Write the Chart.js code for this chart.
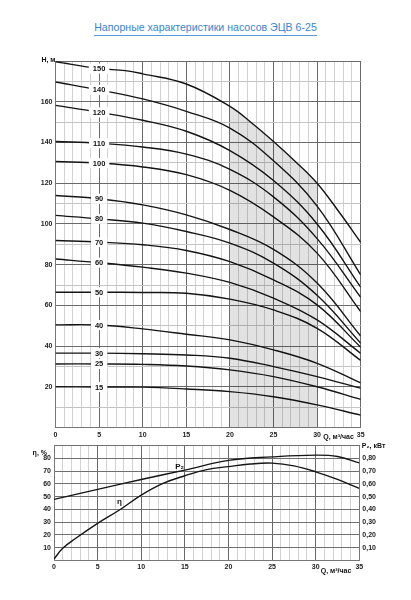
<!DOCTYPE html>
<html lang="ru">
<head>
  <meta charset="UTF-8">
  <title>Напорные характеристики насосов ЭЦВ 6-25</title>
  <script src="https://cdn.jsdelivr.net/npm/chart.js"></script>
  <style>
    body { margin: 0; background: #fff; }
    #wrap { position: relative; width: 411px; height: 600px; }
    #wrap canvas { position: absolute; left: 0; top: 0; }
    #title { position: absolute; top: 21px; left: 0; width: 411px; text-align: center;
             font: 10.6px "Liberation Sans", Arial, sans-serif; color: #3a85cf; line-height: 13px; }
    #title span { border-bottom: 1px solid #5b9bd9; padding-bottom: 2px; }
  </style>
</head>
<body>
  <div id="wrap">
    <div id="title"><span>Напорные характеристики насосов ЭЦВ 6-25</span></div>
    <canvas id="headChart" width="411" height="600"></canvas>
    <canvas id="effChart" width="411" height="600"></canvas>
  </div>

  <script>
    // Q-H curves, number of stages -> head (m) at flow Q (m3/h)
    const flowQ = [0, 5, 10, 15, 20, 25, 30, 35];
    const q150 = [0, 5, 8, 10, 15, 20, 22.5, 25, 27.5, 30, 32.5, 35];
    const h150 = [179.6, 176.3, 175.3, 173.7, 168.7, 157.7, 149.6, 140.5, 130.7, 120.0, 106.0, 91.0];
    const h140 = [169.7, 165.8, 161.4, 155.3, 147.1, 131.0, 108.8, 75.0];
    const h120 = [158.2, 154.8, 150.9, 145.5, 136.0, 121.3, 100.0, 69.0];
    const h110 = [140.5, 139.6, 137.8, 134.3, 126.8, 113.3, 92.8, 64.0];
    const h100 = [130.7, 129.9, 128.0, 124.2, 116.5, 103.5, 85.7, 57.0];
    const h90 = [114.0, 112.4, 109.4, 104.5, 97.3, 87.5, 71.0, 45.0];
    const h80 = [104.2, 102.5, 100.4, 96.3, 90.6, 80.8, 65.0, 41.5];
    const h70 = [91.9, 91.1, 89.8, 87.0, 81.5, 72.6, 60.3, 39.5];
    const h60 = [82.8, 81.0, 78.8, 75.9, 71.3, 63.6, 52.9, 36.5];
    const h50 = [66.5, 66.5, 66.4, 66.0, 63.1, 57.8, 48.8, 33.0];
    const h40 = [50.5, 50.4, 48.5, 45.9, 43.1, 38.2, 31.6, 22.0];
    const h30 = [36.6, 36.6, 36.3, 35.7, 34.1, 30.0, 25.1, 19.4];
    const h25 = [31.3, 31.3, 31.1, 30.3, 28.4, 25.1, 20.1, 13.9];
    const h15 = [20.1, 20.0, 19.9, 19.0, 17.7, 15.2, 11.2, 6.2];

    const stages = ['140', '120', '110', '100', '90', '80', '70', '60', '50', '40', '30', '25', '15'];
    const heads = [h140, h120, h110, h100, h90, h80, h70, h60, h50, h40, h30, h25, h15];

    // efficiency (%) and power P2 (kW)
    const effQ = [0, 1, 2.5, 5, 7.5, 10, 12.5, 15, 17.5, 20, 22.5, 25, 27.5, 30, 32.5, 35];
    const effPct = [1, 9.4, 17.3, 29.0, 39.5, 51.2, 60.4, 66.4, 71.2, 73.6, 75.6, 76.3, 74.2, 69.5, 63.5, 56.5];
    const powQ = [0, 5, 10, 15, 20, 25, 30, 32.5, 35];
    const powKw = [0.478, 0.557, 0.635, 0.708, 0.785, 0.812, 0.826, 0.815, 0.765];

    const FONT = '"Liberation Sans", Arial, sans-serif';
    Chart.defaults.font.family = FONT;
    Chart.defaults.color = '#222';

    const pts = (q, h) => q.map((x, i) => ({ x: x, y: h[i] }));
    const lineStyle = { borderColor: '#151515', borderWidth: 1.4, pointRadius: 0,
                        tension: 0.4, fill: false };
    const tickFont = { size: 7, weight: 'bold' };

    const headSets = [{
      label: '150', data: pts(q150, h150), ...lineStyle,
      fill: 'origin', backgroundColor: 'transparent',
      segment: {
        backgroundColor: c => (c.p0.parsed.x >= 20 && c.p1.parsed.x <= 30) ? 'rgba(0,0,0,0.115)' : 'transparent'
      }
    }];
    stages.forEach((s, i) => headSets.push({ label: s, data: pts(flowQ, heads[i]), ...lineStyle }));

    const headLabels = {
      id: 'headLabels',
      afterDatasetsDraw(chart) {
        const { ctx, scales: { x, y }, chartArea } = chart;
        ctx.save();
        ctx.font = 'bold 7.5px ' + FONT;
        ctx.textAlign = 'center';
        ctx.textBaseline = 'middle';
        chart.data.datasets.forEach(ds => {
          const p = ds.data.find(d => d.x === 5);
          const px = x.getPixelForValue(5), py = y.getPixelForValue(p.y);
          const w = ctx.measureText(ds.label).width + 8;
          ctx.fillStyle = '#fff';
          ctx.fillRect(px - w / 2, py - 5, w, 10);
          ctx.fillStyle = '#111';
          ctx.fillText(ds.label, px, py + 0.5);
        });
        ctx.font = 'bold 7px ' + FONT;
        ctx.textAlign = 'right';
        ctx.fillText('H, м', chartArea.left, chartArea.top - 1);
        ctx.textAlign = 'center';
        ctx.fillText('Q, м³/час', 338.5, chartArea.bottom + 9.5);
        ctx.restore();
      }
    };

    new Chart(document.getElementById('headChart'), {
      type: 'line',
      data: { datasets: headSets },
      options: {
        responsive: false, animation: false,
        layout: { padding: { left: 0, right: 50.3, top: 61, bottom: 158.3 } },
        plugins: { legend: { display: false }, tooltip: { enabled: false } },
        scales: {
          x: {
            type: 'linear', min: 0, max: 35,
            afterFit: s => { s.height = 14; },
            border: { color: '#777' },
            grid: { drawTicks: false, color: c => c.tick.value % 5 === 0 ? '#6a6a6a' : '#d2d2d2' },
            ticks: { stepSize: 1, autoSkip: false, maxRotation: 0, padding: 3, font: tickFont,
                     callback: v => v % 5 === 0 ? v : '' }
          },
          y: {
            min: 0, max: 180,
            afterFit: s => { s.width = 55.5; },
            border: { color: '#777' },
            grid: { drawTicks: false, color: c => c.tick.value % 20 === 0 ? '#6a6a6a' : '#c4c4c4' },
            ticks: { stepSize: 10, autoSkip: false, padding: 3, font: tickFont,
                     callback: v => (v % 20 === 0 && v > 0 && v < 180) ? v : '' }
          }
        }
      },
      plugins: [headLabels]
    });

    const effLabels = {
      id: 'effLabels',
      afterDatasetsDraw(chart) {
        const { ctx, scales: { x, y }, chartArea } = chart;
        ctx.save();
        ctx.fillStyle = '#111';
        ctx.textBaseline = 'middle';
        ctx.font = 'bold 7px ' + FONT;
        ctx.textAlign = 'right';
        ctx.fillText('η, %', chartArea.left - 7, chartArea.top + 7);
        ctx.textAlign = 'left';
        ctx.fillText('P₂, кВт', chartArea.right + 2.5, chartArea.top + 0.5);
        ctx.textAlign = 'center';
        ctx.fillText('Q, м³/час', 336, chartArea.bottom + 10.5);
        ctx.font = 'bold 8px ' + FONT;
        ctx.fillText('η', x.getPixelForValue(7.5), y.getPixelForValue(46));
        ctx.fillText('P₂', x.getPixelForValue(14.4), y.getPixelForValue(73.5));
        ctx.restore();
      }
    };

    new Chart(document.getElementById('effChart'), {
      type: 'line',
      data: {
        datasets: [
          { label: 'η', data: pts(effQ, effPct), yAxisID: 'y', ...lineStyle },
          { label: 'P2', data: pts(powQ, powKw), yAxisID: 'y2', ...lineStyle }
        ]
      },
      options: {
        responsive: false, animation: false,
        layout: { padding: { left: 0, right: 0, top: 445.7, bottom: 25.7 } },
        plugins: { legend: { display: false }, tooltip: { enabled: false } },
        scales: {
          x: {
            type: 'linear', min: 0, max: 35,
            afterFit: s => { s.height = 14; },
            border: { color: '#777' },
            grid: { drawTicks: false, color: c => c.tick.value % 5 === 0 ? '#6a6a6a' : '#d2d2d2' },
            ticks: { stepSize: 1, autoSkip: false, maxRotation: 0, padding: 3, font: tickFont,
                     callback: v => v % 5 === 0 ? v : '' }
          },
          y: {
            min: 0, max: 90,
            afterFit: s => { s.width = 54; },
            border: { color: '#777' },
            grid: { drawTicks: false, color: '#6f6f6f' },
            ticks: { stepSize: 10, autoSkip: false, padding: 3, font: tickFont,
                     callback: v => (v > 0 && v < 90) ? v : '' }
          },
          y2: {
            position: 'right', min: 0, max: 0.9,
            afterFit: s => { s.width = 51.7; },
            border: { color: '#777' },
            grid: { drawOnChartArea: false, drawTicks: false },
            ticks: { stepSize: 0.1, autoSkip: false, padding: 3, font: tickFont,
                     callback: v => (v > 0.05 && v < 0.85) ? v.toFixed(2).replace('.', ',') : '' }
          }
        }
      },
      plugins: [effLabels]
    });
  </script>
</body>
</html>
